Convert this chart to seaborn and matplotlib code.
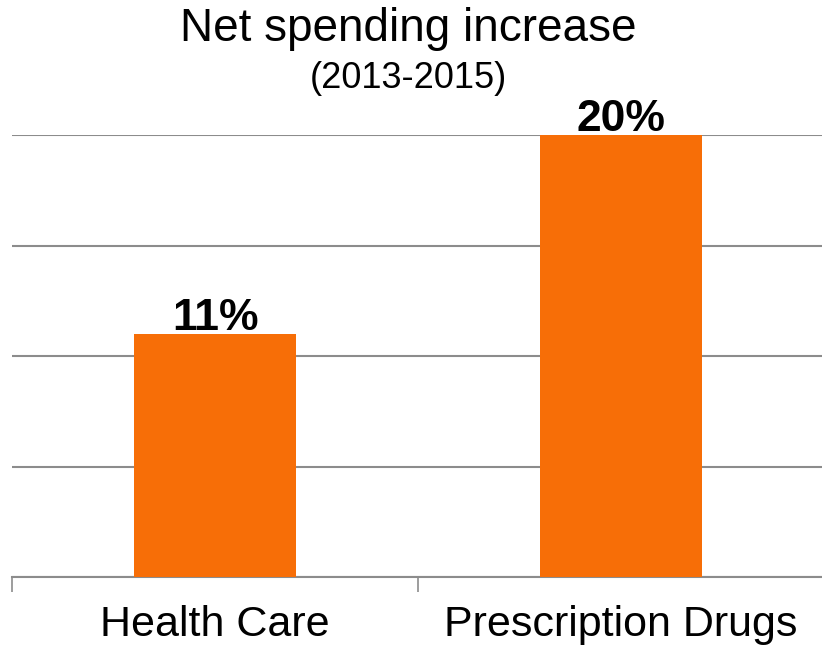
import matplotlib
matplotlib.use("Agg")
import matplotlib.pyplot as plt
import seaborn as sns
import pandas as pd

categories = ["Health Care", "Prescription Drugs"]
values = [11, 20]
value_labels = ["11%", "20%"]
title = "Net spending increase"
subtitle = "(2013-2015)"

sns.set_theme(style="white")
plt.rcParams['font.family'] = ['Liberation Sans', 'DejaVu Sans']

df = pd.DataFrame({"cat": categories, "val": values})

fig = plt.figure(figsize=(8.22, 6.58), dpi=100)
ax = fig.add_axes([12/822, (658-577)/658, 812/822, (577-135)/658])

sns.barplot(data=df, x="cat", y="val", color="#F76E07", saturation=1,
            width=0.4, ax=ax, zorder=3, linewidth=0, edgecolor="none")

ax.set_ylim(0, 20)
ax.set_xlim(-0.5, 1.5)
ax.set_yticks([0, 5, 10, 15, 20])
ax.yaxis.grid(True, color="#8c8c8c", linewidth=1.5, zorder=0)
ax.set_axisbelow(True)
ax.tick_params(axis="y", left=False, labelleft=False)
ax.set_xlabel("")
ax.set_ylabel("")
for s in ["top", "right", "left"]:
    ax.spines[s].set_visible(False)
ax.spines["bottom"].set_color("#8c8c8c")
ax.spines["bottom"].set_linewidth(1.5)

ax.set_xticks([-0.5, 0.5, 1.5], minor=True)
ax.tick_params(axis="x", which="minor", bottom=True, length=11, width=1.2,
               color="#8c8c8c", direction="out")
ax.tick_params(axis="x", which="major", bottom=False, length=0, pad=20)
for lab in ax.get_xticklabels():
    lab.set_fontsize(31)
    lab.set_color("black")

for i, (v, t) in enumerate(zip(values, value_labels)):
    ax.annotate(t, (i, v), xytext=(0, 3), textcoords="offset points",
                ha="center", va="baseline", fontsize=32, fontweight="bold",
                color="black", zorder=5, annotation_clip=False)

fig.text(408/822, 1 - 29/658, title, ha="center", va="center", fontsize=33, color="black")
fig.text(408/822, 1 - 78/658, subtitle, ha="center", va="center", fontsize=26, color="black")

fig.savefig("out.png", dpi=100)
